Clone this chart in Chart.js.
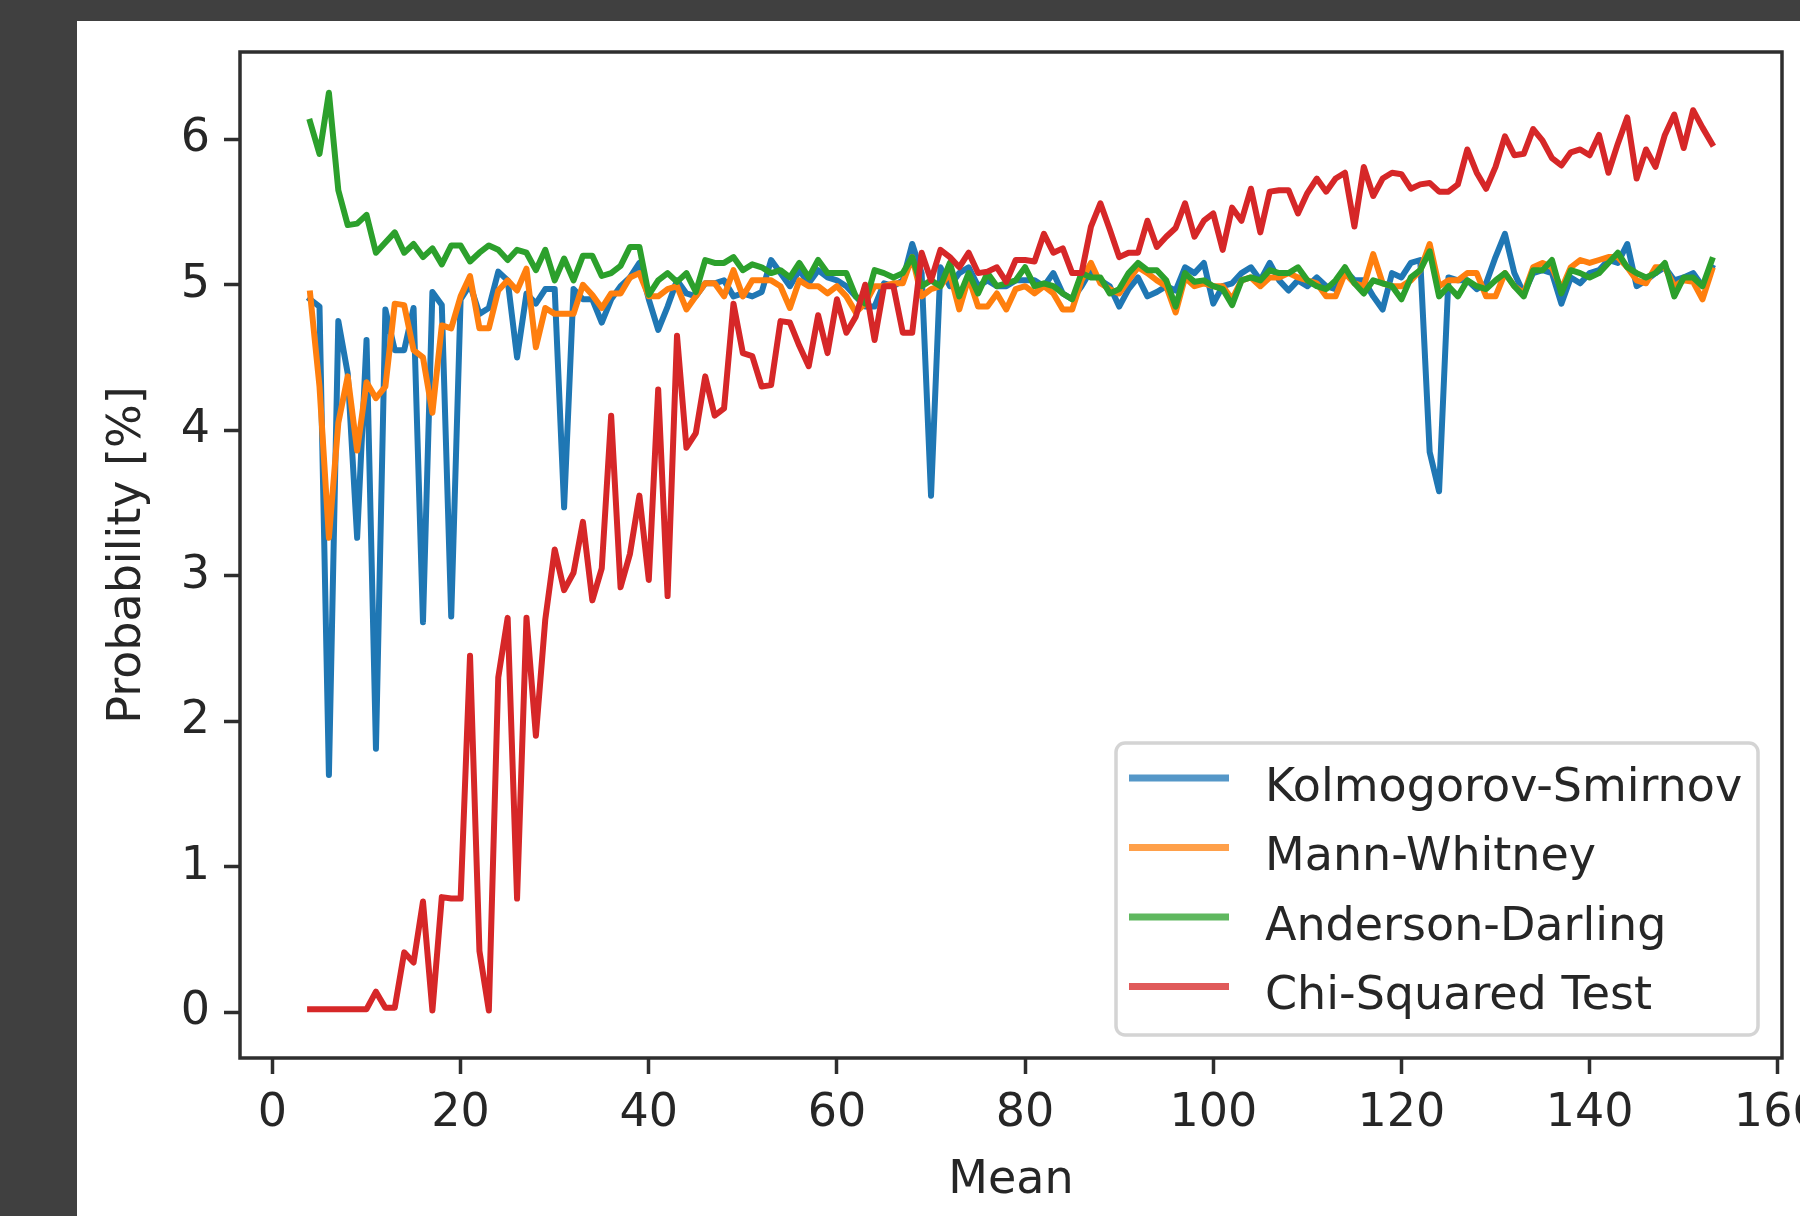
<!DOCTYPE html>
<html>
<head>
<meta charset="utf-8">
<script src="https://cdn.jsdelivr.net/npm/chart.js@4.4.1/dist/chart.umd.min.js"></script>
<style>
  html, body { margin: 0; padding: 0; width: 1800px; height: 1216px; background: #404040; overflow: hidden; }
  #panel { position: absolute; left: 77px; top: 21px; width: 1723px; height: 1195px; background: #fff; overflow: hidden; }
  #chart { display: block; }
</style>
</head>
<body>
<div id="panel"><canvas id="chart" width="1823" height="1195"></canvas></div>
<script>
// mean of the sampled distribution, 4 .. 153
const means = Array.from({ length: 150 }, (_, i) => i + 4);

const ksValues = [
  4.90, 4.85, 1.63, 4.75, 4.39, 3.26, 4.62, 1.81, 4.83, 4.55,
  4.55, 4.84, 2.68, 4.95, 4.86, 2.72, 4.90, 5.00, 4.80, 4.84,
  5.09, 5.03, 4.50, 4.94, 4.87, 4.97, 4.97, 3.47, 4.97, 4.90,
  4.90, 4.74, 4.90, 4.99, 5.05, 5.15, 4.90, 4.69, 4.85, 5.03,
  4.94, 4.92, 5.01, 5.01, 5.03, 4.92, 4.94, 4.92, 4.95, 5.17,
  5.08, 4.99, 5.10, 5.01, 5.10, 5.05, 5.03, 4.99, 4.92, 4.85,
  4.85, 5.01, 4.99, 5.03, 5.28, 5.08, 3.55, 5.12, 4.99, 5.08,
  5.12, 4.99, 5.03, 4.99, 4.99, 5.03, 5.03, 5.03, 4.99, 5.08,
  4.94, 4.90, 4.99, 5.10, 5.03, 4.99, 4.85, 4.97, 5.05, 4.92,
  4.95, 4.99, 4.96, 5.12, 5.08, 5.15, 4.87, 4.99, 5.01, 5.08,
  5.12, 5.03, 5.15, 5.03, 4.96, 5.03, 4.99, 5.05, 4.99, 4.97,
  5.10, 5.03, 5.03, 4.92, 4.83, 5.08, 5.05, 5.15, 5.17, 3.85,
  3.58, 5.05, 5.03, 5.03, 4.97, 5.01, 5.19, 5.35, 5.08, 4.94,
  5.08, 5.10, 5.08, 4.87, 5.05, 5.01, 5.08, 5.10, 5.17, 5.15,
  5.28, 4.99, 5.03, 5.08, 5.12, 5.03, 5.05, 5.08, 4.99, 5.12
];

const mwValues = [
  4.94, 4.30, 3.26, 4.05, 4.37, 3.86, 4.33, 4.22, 4.30, 4.87,
  4.86, 4.55, 4.50, 4.12, 4.72, 4.70, 4.92, 5.06, 4.70, 4.70,
  4.96, 5.03, 4.96, 5.11, 4.57, 4.84, 4.80, 4.80, 4.80, 5.00,
  4.93, 4.84, 4.94, 4.94, 5.05, 5.08, 4.92, 4.92, 4.97, 4.99,
  4.83, 4.92, 5.01, 5.01, 4.92, 5.10, 4.92, 5.03, 5.03, 5.03,
  4.99, 4.84, 5.03, 4.99, 4.99, 4.94, 4.99, 4.92, 4.81, 4.87,
  4.99, 4.99, 5.01, 5.01, 5.19, 4.92, 4.97, 4.99, 5.08, 4.83,
  5.05, 4.85, 4.85, 4.94, 4.83, 4.97, 4.99, 4.94, 4.99, 4.94,
  4.83, 4.83, 5.03, 5.15, 5.01, 4.97, 4.94, 5.03, 5.12, 5.08,
  5.03, 4.99, 4.81, 5.05, 4.99, 5.01, 4.99, 4.99, 4.90, 5.03,
  5.05, 4.99, 5.05, 5.05, 5.08, 5.05, 5.03, 5.01, 4.92, 4.92,
  5.08, 5.01, 4.99, 5.21, 5.01, 4.99, 4.99, 5.03, 5.10, 5.28,
  4.99, 5.03, 5.03, 5.08, 5.08, 4.92, 4.92, 5.08, 4.99, 4.94,
  5.12, 5.15, 5.12, 4.97, 5.12, 5.17, 5.15, 5.17, 5.19, 5.19,
  5.12, 5.03, 5.01, 5.12, 5.12, 4.99, 5.03, 5.02, 4.90, 5.10
];

const adValues = [
  6.12, 5.90, 6.32, 5.65, 5.41, 5.42, 5.48, 5.22, 5.29, 5.36,
  5.22, 5.28, 5.19, 5.25, 5.14, 5.27, 5.27, 5.16, 5.22, 5.27,
  5.24, 5.17, 5.24, 5.22, 5.10, 5.24, 5.03, 5.18, 5.03, 5.20,
  5.20, 5.06, 5.08, 5.13, 5.26, 5.26, 4.93, 5.03, 5.08, 5.02,
  5.08, 4.95, 5.17, 5.15, 5.15, 5.19, 5.10, 5.14, 5.12, 5.08,
  5.10, 5.05, 5.15, 5.05, 5.17, 5.08, 5.08, 5.08, 4.92, 4.87,
  5.10, 5.08, 5.05, 5.08, 5.19, 4.99, 5.03, 4.99, 5.15, 4.92,
  5.08, 4.94, 5.08, 4.99, 5.01, 5.03, 5.12, 4.99, 5.01, 4.99,
  4.94, 4.90, 5.08, 5.05, 5.05, 4.94, 4.97, 5.08, 5.15, 5.10,
  5.10, 5.03, 4.85, 5.08, 5.02, 5.03, 4.99, 4.97, 4.86, 5.03,
  5.05, 5.03, 5.10, 5.08, 5.08, 5.12, 5.03, 4.99, 4.97, 5.03,
  5.12, 5.01, 4.94, 5.03, 5.01, 4.99, 4.90, 5.05, 5.10, 5.23,
  4.92, 4.99, 4.92, 5.03, 4.99, 4.97, 5.03, 5.08, 4.99, 4.92,
  5.10, 5.10, 5.17, 4.94, 5.10, 5.08, 5.05, 5.08, 5.15, 5.22,
  5.12, 5.08, 5.05, 5.08, 5.15, 4.92, 5.05, 5.05, 4.99, 5.17
];

const chiValues = [
  0.02, 0.02, 0.02, 0.02, 0.02, 0.02, 0.02, 0.14, 0.03, 0.03,
  0.41, 0.34, 0.76, 0.01, 0.79, 0.78, 0.78, 2.45, 0.42, 0.01,
  2.30, 2.71, 0.78, 2.71, 1.90, 2.70, 3.18, 2.90, 3.02, 3.37,
  2.83, 3.05, 4.10, 2.92, 3.15, 3.55, 2.97, 4.28, 2.86, 4.65,
  3.88, 3.98, 4.37, 4.10, 4.15, 4.87, 4.53, 4.51, 4.30, 4.31,
  4.75, 4.74, 4.58, 4.44, 4.79, 4.53, 4.90, 4.67, 4.78, 5.00,
  4.62, 4.99, 4.99, 4.67, 4.67, 5.22, 5.03, 5.24, 5.19, 5.12,
  5.22, 5.08, 5.09, 5.12, 5.02, 5.17, 5.17, 5.16, 5.35, 5.22,
  5.25, 5.08, 5.08, 5.40, 5.56, 5.38, 5.19, 5.22, 5.22, 5.44,
  5.26, 5.33, 5.39, 5.56, 5.33, 5.44, 5.49, 5.24, 5.53, 5.44,
  5.66, 5.36, 5.64, 5.65, 5.65, 5.49, 5.63, 5.73, 5.64, 5.73,
  5.77, 5.40, 5.81, 5.61, 5.73, 5.77, 5.76, 5.66, 5.69, 5.70,
  5.64, 5.64, 5.69, 5.93, 5.77, 5.66, 5.81, 6.02, 5.89, 5.90,
  6.07, 5.99, 5.87, 5.82, 5.91, 5.93, 5.89, 6.03, 5.77, 5.97,
  6.15, 5.73, 5.93, 5.81, 6.03, 6.17, 5.94, 6.20, 6.08, 5.97
];

const seriesNames = ['Kolmogorov-Smirnov', 'Mann-Whitney', 'Anderson-Darling', 'Chi-Squared Test'];
const xTicks = [0, 20, 40, 60, 80, 100, 120, 140, 160];
const yTicks = [0, 1, 2, 3, 4, 5, 6];

const lineColors = ['#1f77b4', '#ff7f0e', '#2ca02c', '#d62728'];
const keyColors = ['#5597c8', '#ffa04a', '#5fb85f', '#e05a5a'];
const inkColor = '#262626';
const spineColor = '#2e2e2e';
const fontFamily = '"DejaVu Sans", sans-serif';
const fontSize = 46;

function toPoints(values) {
  return values.map((v, i) => ({ x: means[i], y: v }));
}

const seriesValues = [ksValues, mwValues, adValues, chiValues];

// later series sit on top, so give them a lower draw order
const datasets = seriesValues.map((values, i) => ({
  label: seriesNames[i],
  data: toPoints(values),
  borderColor: lineColors[i],
  backgroundColor: lineColors[i],
  borderWidth: 6,
  borderJoinStyle: 'round',
  borderCapStyle: 'square',
  pointRadius: 0,
  tension: 0,
  fill: false,
  order: seriesValues.length - i
}));

// box around the plot plus a legend in the lower right corner
const framePlugin = {
  id: 'frame',
  afterDraw(chart) {
    const { ctx, chartArea: a } = chart;
    ctx.save();
    ctx.strokeStyle = spineColor;
    ctx.lineWidth = 3.5;
    ctx.strokeRect(a.left, a.top, a.right - a.left, a.bottom - a.top);

    const boxW = 642, boxH = 292;
    const bx = a.right - 24 - boxW;
    const by = a.bottom - 23 - boxH;
    ctx.beginPath();
    ctx.roundRect(bx, by, boxW, boxH, 9);
    ctx.fillStyle = 'rgba(255,255,255,0.8)';
    ctx.fill();
    ctx.strokeStyle = '#d4d4d4';
    ctx.lineWidth = 3.5;
    ctx.stroke();

    ctx.font = fontSize + 'px ' + fontFamily;
    ctx.textBaseline = 'alphabetic';
    ctx.textAlign = 'left';
    chart.data.datasets.forEach((ds, i) => {
      const cy = by + 35 + i * 69.5;
      ctx.strokeStyle = keyColors[i];
      ctx.lineWidth = 7;
      ctx.beginPath();
      ctx.moveTo(bx + 13, cy);
      ctx.lineTo(bx + 113, cy);
      ctx.stroke();
      ctx.fillStyle = inkColor;
      ctx.fillText(ds.label, bx + 149, cy + 22.5);
    });
    ctx.restore();
  }
};

const tickFont = { family: fontFamily, size: fontSize };
const gridStyle = {
  drawOnChartArea: false,
  drawTicks: true,
  tickLength: 16,
  tickWidth: 3.5,
  tickColor: spineColor
};

new Chart(document.getElementById('chart'), {
  type: 'line',
  data: { datasets },
  options: {
    responsive: false,
    animation: false,
    devicePixelRatio: 1,
    layout: { padding: { left: 0, top: 31, right: 118, bottom: 0 } },
    plugins: {
      legend: { display: false },
      tooltip: { enabled: false }
    },
    scales: {
      x: {
        type: 'linear',
        min: -3.45,
        max: 160.45,
        afterBuildTicks: s => { s.ticks = xTicks.map(v => ({ value: v })); },
        afterFit: s => { s.height = 158; },
        grid: gridStyle,
        border: { display: false },
        ticks: {
          padding: 12,
          color: inkColor,
          font: tickFont,
          maxRotation: 0,
          autoSkip: false,
          callback: v => String(v)
        },
        title: {
          display: true,
          text: 'Mean',
          color: inkColor,
          font: tickFont,
          padding: { top: 0, bottom: 7 }
        }
      },
      y: {
        type: 'linear',
        min: -0.316,
        max: 6.6,
        afterBuildTicks: s => { s.ticks = yTicks.map(v => ({ value: v })); },
        afterFit: s => { s.width = 163; },
        grid: gridStyle,
        border: { display: false },
        ticks: {
          padding: 14,
          color: inkColor,
          // small line height keeps the top label from pushing the plot down
          font: { family: fontFamily, size: fontSize, lineHeight: 0.5 },
          autoSkip: false,
          callback: v => String(v)
        },
        title: {
          display: true,
          text: 'Probability [%]',
          color: inkColor,
          font: tickFont,
          padding: { top: 23.5, bottom: 0 }
        }
      }
    }
  },
  plugins: [framePlugin]
});
</script>
</body>
</html>
